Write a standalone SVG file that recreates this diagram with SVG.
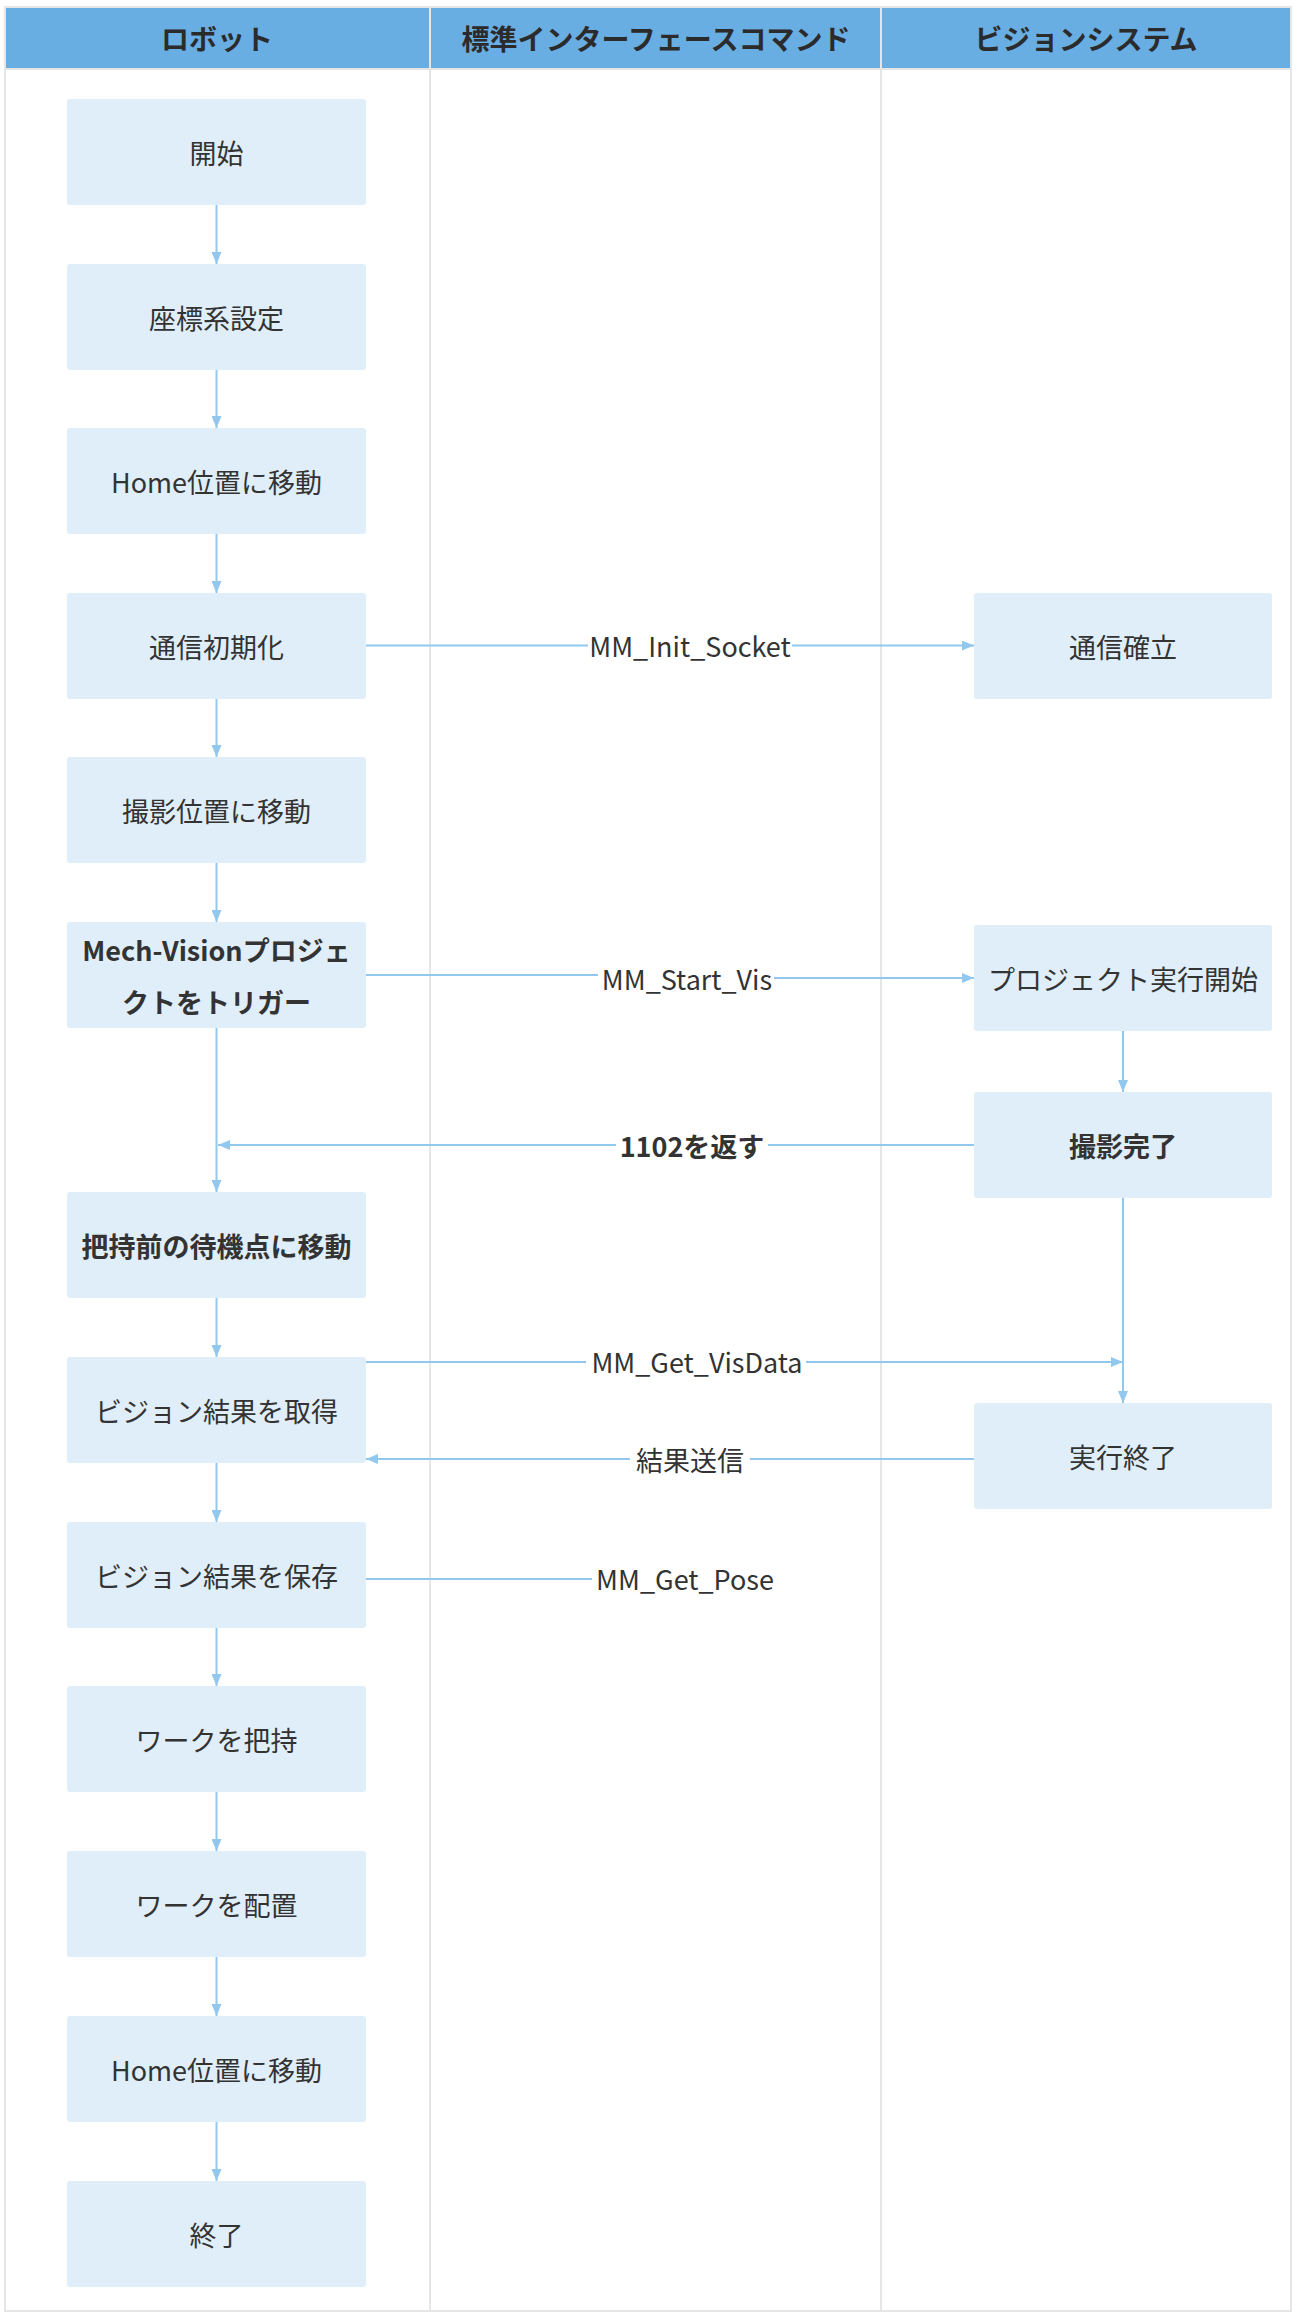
<svg xmlns="http://www.w3.org/2000/svg" width="1301" height="2318" viewBox="0 0 1301 2318">
<style>
.node{fill:#e0eef9;}
.t{font-family:"Noto Sans CJK JP","Noto Sans",sans-serif;font-size:27px;fill:#333;text-anchor:middle;dominant-baseline:central;}
.b{font-weight:bold;}
.h{font-family:"Noto Sans CJK JP","Noto Sans",sans-serif;font-size:28px;font-weight:bold;fill:#2b2b2b;text-anchor:middle;dominant-baseline:central;}
.e{fill:none;stroke:#92c7ee;stroke-width:2;}
.lb{fill:#fff;}
</style>
<defs>
<marker id="a" viewBox="0 0 12 10" refX="12" refY="5" markerWidth="12" markerHeight="10" markerUnits="userSpaceOnUse" orient="auto">
<path d="M0,0 L12,5 L0,10 z" fill="#92c7ee"/>
</marker>
</defs>
<rect x="0" y="0" width="1301" height="2318" fill="#fff"/>
<g id="lanes">
<rect x="5" y="7" width="1286" height="2304" fill="#fff" stroke="#e6e6e6" stroke-width="2"/>
<line x1="430" y1="7" x2="430" y2="2311" stroke="#e6e6e6" stroke-width="2"/>
<line x1="881" y1="7" x2="881" y2="2311" stroke="#e6e6e6" stroke-width="2"/>
<rect x="6" y="8" width="423" height="60" fill="#69aee3"/>
<rect x="431" y="8" width="449" height="60" fill="#69aee3"/>
<rect x="882" y="8" width="408" height="60" fill="#69aee3"/>
<line x1="5" y1="69" x2="1291" y2="69" stroke="#e6e6e6" stroke-width="2"/>
<text class="h" x="217" y="38">ロボット</text>
<text class="h" x="656" y="38">標準インターフェースコマンド</text>
<text class="h" x="1086" y="38">ビジョンシステム</text>
</g>
<g id="connectors">
<line class="e" x1="216.5" y1="205" x2="216.5" y2="264" marker-end="url(#a)"/>
<line class="e" x1="216.5" y1="370" x2="216.5" y2="428" marker-end="url(#a)"/>
<line class="e" x1="216.5" y1="534" x2="216.5" y2="593" marker-end="url(#a)"/>
<line class="e" x1="216.5" y1="699" x2="216.5" y2="757" marker-end="url(#a)"/>
<line class="e" x1="216.5" y1="863" x2="216.5" y2="922" marker-end="url(#a)"/>
<line class="e" x1="216.5" y1="1028" x2="216.5" y2="1192" marker-end="url(#a)"/>
<line class="e" x1="216.5" y1="1298" x2="216.5" y2="1357" marker-end="url(#a)"/>
<line class="e" x1="216.5" y1="1463" x2="216.5" y2="1522" marker-end="url(#a)"/>
<line class="e" x1="216.5" y1="1628" x2="216.5" y2="1686" marker-end="url(#a)"/>
<line class="e" x1="216.5" y1="1792" x2="216.5" y2="1851" marker-end="url(#a)"/>
<line class="e" x1="216.5" y1="1957" x2="216.5" y2="2016" marker-end="url(#a)"/>
<line class="e" x1="216.5" y1="2122" x2="216.5" y2="2181" marker-end="url(#a)"/>
<line class="e" x1="1123" y1="1031" x2="1123" y2="1092" marker-end="url(#a)"/>
<line class="e" x1="1123" y1="1198" x2="1123" y2="1403" marker-end="url(#a)"/>
<line class="e" x1="366" y1="645.5" x2="974" y2="645.5" marker-end="url(#a)"/>
<rect class="lb" x="588" y="630" width="204" height="30"/>
<text class="t" x="690" y="645">MM_Init_Socket</text>
<polyline class="e" points="366,975 680,975 700,978 974,978" marker-end="url(#a)"/>
<rect class="lb" x="598" y="963" width="176" height="30"/>
<text class="t" x="687" y="978">MM_Start_Vis</text>
<line class="e" x1="974" y1="1145" x2="218" y2="1145" marker-end="url(#a)"/>
<rect class="lb" x="616" y="1130" width="152" height="30"/>
<text class="t b" x="692" y="1145">1102を返す</text>
<line class="e" x1="366" y1="1362" x2="1123" y2="1362" marker-end="url(#a)"/>
<rect class="lb" x="586" y="1347" width="220" height="30"/>
<text class="t" x="697" y="1361">MM_Get_VisData</text>
<line class="e" x1="974" y1="1459" x2="366" y2="1459" marker-end="url(#a)"/>
<rect class="lb" x="630" y="1444" width="120" height="30"/>
<text class="t" x="690" y="1459">結果送信</text>
<line class="e" x1="366" y1="1579" x2="592" y2="1579"/>
<text class="t" x="685" y="1578">MM_Get_Pose</text>
</g>
<g id="n1"><rect class="node" x="67" y="99" width="299" height="106" rx="3"/><text class="t" x="216.5" y="152">開始</text></g>
<g id="n2"><rect class="node" x="67" y="264" width="299" height="106" rx="3"/><text class="t" x="216.5" y="317">座標系設定</text></g>
<g id="n3"><rect class="node" x="67" y="428" width="299" height="106" rx="3"/><text class="t" x="216.5" y="481">Home位置に移動</text></g>
<g id="n4"><rect class="node" x="67" y="593" width="299" height="106" rx="3"/><text class="t" x="216.5" y="646">通信初期化</text></g>
<g id="n5"><rect class="node" x="67" y="757" width="299" height="106" rx="3"/><text class="t" x="216.5" y="810">撮影位置に移動</text></g>
<g id="n6"><rect class="node" x="67" y="922" width="299" height="106" rx="3"/><text class="t b" x="216.5" y="949">Mech-Visionプロジェ</text><text class="t b" x="216.5" y="1001">クトをトリガー</text></g>
<g id="n7"><rect class="node" x="67" y="1192" width="299" height="106" rx="3"/><text class="t b" x="216.5" y="1245">把持前の待機点に移動</text></g>
<g id="n8"><rect class="node" x="67" y="1357" width="299" height="106" rx="3"/><text class="t" x="216.5" y="1410">ビジョン結果を取得</text></g>
<g id="n9"><rect class="node" x="67" y="1522" width="299" height="106" rx="3"/><text class="t" x="216.5" y="1575">ビジョン結果を保存</text></g>
<g id="n10"><rect class="node" x="67" y="1686" width="299" height="106" rx="3"/><text class="t" x="216.5" y="1739">ワークを把持</text></g>
<g id="n11"><rect class="node" x="67" y="1851" width="299" height="106" rx="3"/><text class="t" x="216.5" y="1904">ワークを配置</text></g>
<g id="n12"><rect class="node" x="67" y="2016" width="299" height="106" rx="3"/><text class="t" x="216.5" y="2069">Home位置に移動</text></g>
<g id="n13"><rect class="node" x="67" y="2181" width="299" height="106" rx="3"/><text class="t" x="216.5" y="2234">終了</text></g>
<g id="v1"><rect class="node" x="974" y="593" width="298" height="106" rx="3"/><text class="t" x="1123" y="646">通信確立</text></g>
<g id="v2"><rect class="node" x="974" y="925" width="298" height="106" rx="3"/><text class="t" x="1123" y="978">プロジェクト実行開始</text></g>
<g id="v3"><rect class="node" x="974" y="1092" width="298" height="106" rx="3"/><text class="t b" x="1123" y="1145">撮影完了</text></g>
<g id="v4"><rect class="node" x="974" y="1403" width="298" height="106" rx="3"/><text class="t" x="1123" y="1456">実行終了</text></g>
</svg>
